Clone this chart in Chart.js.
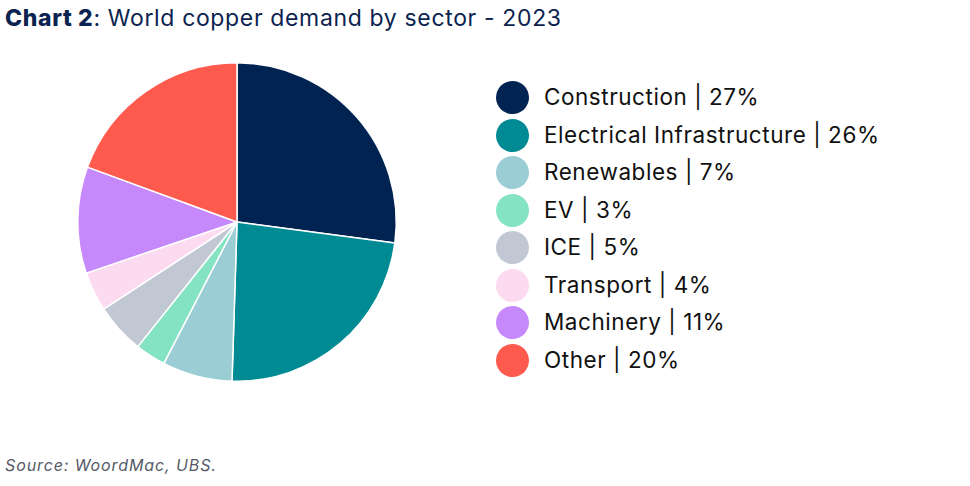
<!DOCTYPE html>
<html>
<head>
<meta charset="utf-8">
<script src="https://cdn.jsdelivr.net/npm/chart.js@4.4.0/dist/chart.umd.min.js"></script>
<style>
  html, body { margin:0; padding:0; background:#fff; width:970px; height:486px; overflow:hidden; }
  body { position:relative; font-family: Inter, "Noto Sans", sans-serif; }
  #title { position:absolute; left:5px; top:4px; font-size:23px; color:#0b2350; white-space:nowrap; letter-spacing:0.65px; }
  #title b { font-weight:800; }
  #source { position:absolute; left:5px; top:455px; font-size:16px; font-style:italic; color:#555a66; white-space:nowrap; letter-spacing:0.9px; }
  #wrap { position:absolute; left:67px; top:52px; width:340px; height:340px; }
  #legend { position:absolute; left:496px; top:0; }
  .item { position:absolute; left:0; height:34px; white-space:nowrap; }
  .dot { position:absolute; left:0; top:0; width:33px; height:33px; border-radius:50%; }
  .lab { position:absolute; left:48px; top:-1px; line-height:33px; font-size:22.5px; color:#111; letter-spacing:0.55px; }
</style>
</head>
<body>
<div id="title"><b>Chart 2</b>: World copper demand by sector - 2023</div>
<div id="wrap"><canvas id="c"></canvas></div>
<div id="legend"></div>
<div id="source">Source: WoordMac, UBS.</div>
<script>
const categories = ["Construction", "Electrical Infrastructure", "Renewables", "EV", "ICE", "Transport", "Machinery", "Other"];
const labelPct = ["27%", "26%", "7%", "3%", "5%", "4%", "11%", "20%"];
const sliceValues = [27.1, 23.4, 7.1, 3.1, 5.1, 4.0, 10.8, 19.4];
const colors = ["#002352", "#008b94", "#9bcdd4", "#84e3c3", "#c2c8d3", "#fcdaf0", "#c689fb", "#ff5a4e"];

const legend = document.getElementById('legend');
categories.forEach((c, i) => {
  const it = document.createElement('div');
  it.className = 'item';
  it.style.top = (81 + i * 37.5) + 'px';
  it.innerHTML = '<div class="dot" style="background:' + colors[i] + '"></div><div class="lab">' + c + ' | ' + labelPct[i] + '</div>';
  legend.appendChild(it);
});

new Chart(document.getElementById('c'), {
  type: 'pie',
  data: {
    labels: categories,
    datasets: [{
      data: sliceValues,
      backgroundColor: colors,
      borderColor: '#ffffff',
      borderWidth: 1.5
    }]
  },
  options: {
    responsive: true,
    maintainAspectRatio: false,
    animation: false,
    layout: { padding: 10 },
    plugins: { legend: { display: false }, tooltip: { enabled: false } }
  }
});
</script>
</body>
</html>
